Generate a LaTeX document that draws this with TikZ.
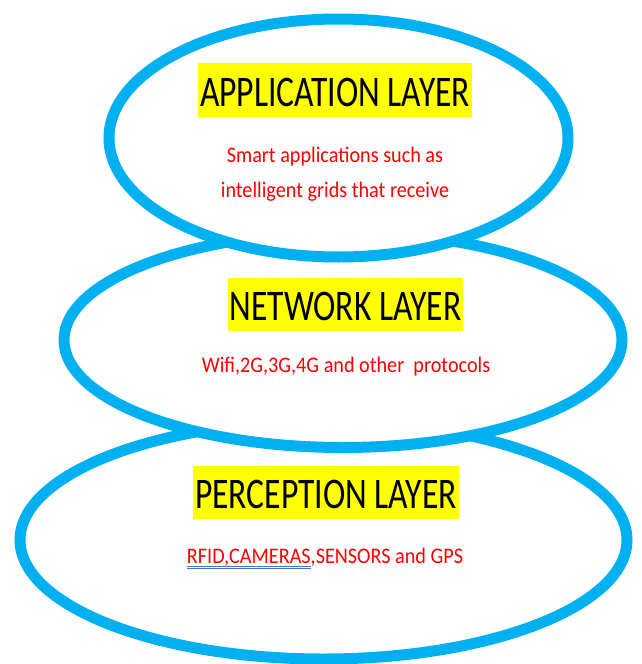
\documentclass[tikz,border=0pt]{standalone}
\usepackage{fontspec}
\setmainfont{Carlito}
\usetikzlibrary{shapes.geometric}
\definecolor{layerblue}{HTML}{00B0F0}
\definecolor{notered}{HTML}{FF0000}
\definecolor{markyellow}{HTML}{FFFF00}
\definecolor{gramblue}{HTML}{4472C4}
% double blue line under a word, as the proofing marks show it
\newcommand{\gramline}[1]{\setbox0\hbox{#1}\rlap{\color{gramblue}\rule[-3.6pt]{\wd0}{0.7pt}\hspace{-\wd0}\rule[-5.6pt]{\wd0}{0.7pt}}\box0}

\begin{document}
\begin{tikzpicture}[
    x=1pt, y=-1pt,
    layer/.style={draw=layerblue, fill=white, line width=11pt, ellipse, inner sep=0pt},
    title/.style={fill=markyellow, font=\fontsize{33.6}{40}\selectfont, inner xsep=2pt,
      inner ysep=0pt, text height=33pt, text depth=8pt, yscale=1.3, transform shape},
    note/.style={text=notered, font=\fontsize{20.2}{32}\selectfont, align=center,
      yscale=1.1, transform shape}
  ]
    \useasboundingbox (0,0) rectangle (641,664);
    % layers, lowest first so the upper ones lie on top
    \node[layer, minimum width=607pt, minimum height=238pt] (perception) at (323.5,540) {};
    \node[layer, minimum width=558pt, minimum height=215pt] (network) at (343,340) {};
    \node[layer, minimum width=459pt, minimum height=238pt] (application) at (338.5,138) {};

    \node[title] (apptitle) at (335,90) {APPLICATION LAYER};
    \node[note] (appnote) at (335,174) {Smart applications such as\\intelligent grids that receive};
    \node[title] (nettitle) at (345.5,304.5) {NETWORK LAYER};
    \node[note, anchor=base] (netnote) at (346,372) {Wifi,2G,3G,4G and other~ protocols};
    \node[title] (perctitle) at (326,492.5) {PERCEPTION LAYER};
    \node[note, anchor=base] (percnote) at (325,563) {\gramline{RFID,CAMERAS},SENSORS and GPS};
  \end{tikzpicture}
\end{document}
